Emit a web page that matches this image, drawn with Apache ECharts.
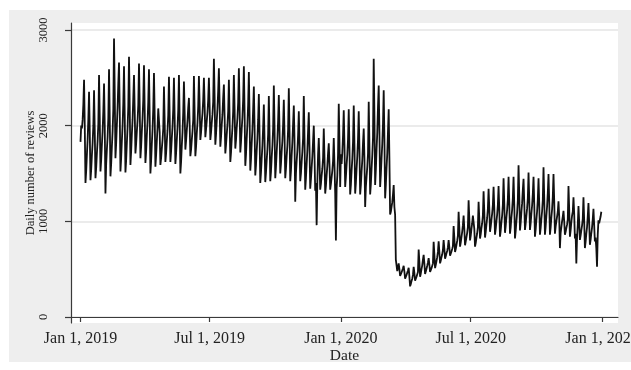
<!DOCTYPE html>
<html>
<head>
<meta charset="utf-8">
<script src="https://cdn.jsdelivr.net/npm/echarts@6/dist/echarts.min.js"></script>
<style>
  html, body { margin: 0; padding: 0; background: #ffffff; }
  #chart { position: absolute; left: 9px; top: 10px; width: 622px; height: 352px; }
</style>
</head>
<body>
<div id="chart"></div>
<script>
// Daily review counts, one value per calendar day starting 1 Jan 2019.
// Rows are Sunday-to-Saturday weeks (the first row holds Tue 1 Jan - Sat 5 Jan).
const firstDay = '2019-01-01';

const reviews2019 = [
  1830,2000,1970,2060,2220,
  2480,1990,1400,1530,1700,1850,2070,
  2355,1940,1430,1540,1690,1820,2000,
  2370,1950,1450,1560,1710,1840,2020,
  2530,2080,1520,1640,1800,1940,2150,
  2440,2010,1290,1600,1750,1880,2080,
  2590,2090,1470,1600,1780,1940,2170,
  2910,2350,1660,1810,2010,2190,2440,
  2660,2150,1520,1660,1840,2000,2230,
  2620,2120,1510,1640,1820,1980,2200,
  2720,2210,1590,1730,1910,2060,2290,
  2530,2160,1710,1810,1940,2050,2220,
  2650,2210,1660,1780,1940,2080,2270,
  2630,2170,1610,1730,1900,2040,2250,
  2590,2100,1500,1630,1810,1960,2180,
  2550,2110,1570,1690,1840,1980,2180,
  2200,1930,1590,1660,1760,1850,1970,
  2410,2050,1620,1710,1840,1950,2110,
  2510,2110,1620,1730,1870,1990,2170,
  2500,2090,1600,1710,1850,1980,2160,
  2530,2070,1500,1620,1790,1930,2140,
  2460,2140,1750,1840,1950,2050,2190,
  2290,2020,1680,1750,1850,1940,2060,
  2520,2140,1680,1780,1920,2030,2200,
  2520,2220,1850,1930,2040,2130,2270,
  2500,2220,1880,1960,2050,2140,2270,
  2500,2210,1850,1930,2030,2120,2250,
  2700,2300,1800,1910,2050,2180,2360,
  2600,2230,1780,1880,2010,2120,2290,
  2430,2100,1710,1800,1910,2010,2150,
  2480,2090,1620,1720,1860,1980,2150,
  2530,2180,1760,1850,1980,2080,2240,
  2600,2200,1720,1830,1970,2090,2270,
  2620,2150,1580,1700,1870,2020,2220,
  2560,2100,1530,1650,1820,1960,2170,
  2410,1990,1480,1590,1740,1870,2060,
  2330,1910,1400,1510,1660,1790,1980,
  2220,1850,1410,1510,1640,1750,1910,
  2310,1910,1420,1520,1670,1790,1970,
  2420,1980,1450,1570,1720,1860,2050,
  2320,1950,1500,1600,1730,1840,2010,
  2270,1900,1450,1550,1680,1790,1960,
  2390,1950,1420,1530,1690,1830,2020,
  2210,1850,1205,1500,1630,1740,1900,
  2150,1820,1420,1500,1620,1730,1870,
  2310,1870,1330,1450,1600,1740,1940,
  2140,1780,1340,1440,1560,1680,1840,
  2000,1690,1320,1400,960,1420,1700,
  1870,1630,1330,1390,1480,1550,1660,
  1970,1670,1290,1370,1480,1580,1710,
  1815,1600,1330,1390,1460,1530,1630,
  1870,1600,1300,800,1350,1480,1700,
  2230,1840,1360
];

const reviews2020 = [
  1700,1600,1720,1900,
  2160,1800,1360,1460,1590,1700,1860,
  2170,1770,1280,1380,1530,1650,1830,
  2210,1800,1290,1400,1550,1680,1860,
  2150,1760,1280,1380,1520,1640,1820,
  1970,1660,1150,1360,1470,1570,1710,
  2250,1810,1280,1390,1550,1690,1880,
  2700,2100,1380,1540,1750,1930,2200,
  2420,1940,1360,1490,1660,1810,2020,
  2370,1860,1240,1380,1560,1710,1940,
  2170,1660,1070,1100,1150,1200,1280,
  1380,1150,1070,600,540,480,460,
  560,500,430,445,465,485,510,
  535,475,400,415,440,455,485,
  515,425,320,345,375,400,440,
  525,460,380,400,420,440,470,
  705,580,420,455,500,540,600,
  650,560,450,475,505,535,570,
  615,550,470,490,510,530,560,
  785,660,510,545,585,625,680,
  790,685,560,590,625,655,700,
  805,715,610,635,665,690,730,
  805,730,640,660,685,710,740,
  950,830,680,710,755,795,850,
  1100,935,735,780,835,890,960,
  1060,920,750,790,835,880,940,
  1220,1030,800,850,920,980,1060,
  1070,920,735,775,830,875,940,
  1205,1030,820,865,930,980,1060,
  1315,1100,830,890,965,1035,1130,
  1340,1140,890,945,1015,1080,1170,
  1360,1135,860,920,1000,1070,1170,
  1370,1130,840,905,990,1060,1170,
  1450,1190,880,950,1040,1120,1230,
  1465,1200,870,940,1040,1120,1240,
  1465,1175,820,900,1000,1090,1220,
  1585,1280,905,985,1095,1190,1330,
  1445,1200,910,975,1060,1135,1240,
  1510,1240,910,980,1080,1165,1285,
  1465,1185,840,915,1015,1105,1230,
  1450,1185,860,930,1025,1105,1225,
  1565,1250,860,945,1055,1155,1295,
  1495,1210,860,935,1040,1125,1255,
  1495,1215,870,945,1000,1050,1100,
  1210,1050,720,880,940,1000,1050,
  1110,1000,860,890,930,965,1020,
  1370,1130,840,905,990,1060,1100,
  1250,1080,820,870,560,830,960,
  1160,1000,805,850,905,955,1025,
  1250,1010,720,785,870,940,1050,
  1190,990,755,805,875,935,1020,
  1130,960,790,830,720,526,860,
  1010,980,1000,1050,1100
];

// Axis ticks
const dateTicks = ['2019-01-01', '2019-07-01', '2020-01-01', '2020-07-01', '2021-01-01'];
const valueTicks = [0, 1000, 2000, 3000];
const monthNames = ['Jan','Feb','Mar','Apr','May','Jun','Jul','Aug','Sep','Oct','Nov','Dec'];

const DAY_MS = 86400000;
const t0 = Date.parse(firstDay);
const daily = reviews2019.concat(reviews2020);
const seriesData = daily.map((v, i) => [t0 + i * DAY_MS, v]);
const dateTickValues = dateTicks.map(d => Date.parse(d));

function fmtDate(ts) {
  const d = new Date(ts);
  return monthNames[d.getUTCMonth()] + ' ' + d.getUTCDate() + ', ' + d.getUTCFullYear();
}

const serif = 'Liberation Serif, Times New Roman, serif';
const axisColor = '#3a3a3a';
const textColor = '#222222';

const chart = echarts.init(document.getElementById('chart'), null, { renderer: 'canvas' });
chart.setOption({
  animation: false,
  backgroundColor: '#eeeeee',
  grid: {
    left: 62, right: 13, top: 13, bottom: 39,
    outerBoundsMode: 'none',
    containLabel: false,
    show: true, backgroundColor: '#ffffff', borderWidth: 0
  },
  xAxis: {
    type: 'value',
    min: t0 - 13.3 * DAY_MS,
    max: t0 + 753.4 * DAY_MS,
    name: 'Date',
    nameLocation: 'middle',
    nameGap: 25,
    nameMoveOverlap: false,
    nameTextStyle: { fontFamily: serif, fontSize: 15.5, color: textColor },
    axisLine: { show: true, lineStyle: { color: axisColor, width: 1.2 } },
    axisTick: { show: true, customValues: dateTickValues, length: 5, lineStyle: { color: axisColor, width: 1.2 } },
    axisLabel: {
      customValues: dateTickValues,
      formatter: fmtDate,
      fontFamily: serif, fontSize: 16, color: textColor, margin: 8,
      hideOverlap: false, showMinLabel: true, showMaxLabel: true
    },
    splitLine: { show: false }
  },
  yAxis: {
    type: 'value',
    min: -63,
    max: 3073,
    name: 'Daily number of reviews',
    nameLocation: 'middle',
    nameRotate: 90,
    nameGap: 34,
    nameMoveOverlap: false,
    nameTextStyle: { fontFamily: serif, fontSize: 12.5, color: textColor },
    axisLine: { show: true, lineStyle: { color: axisColor, width: 1.2 } },
    axisTick: { show: true, customValues: valueTicks, length: 6, lineStyle: { color: axisColor, width: 1.2 } },
    axisLabel: {
      customValues: valueTicks,
      formatter: v => String(v),
      rotate: 90,
      fontFamily: serif, fontSize: 12.5, color: textColor, margin: 21
    },
    splitLine: { show: true, lineStyle: { color: '#e4e4e4', width: 1.5 } }
  },
  series: [{
    type: 'line',
    data: seriesData,
    showSymbol: false,
    symbol: 'none',
    lineStyle: { color: '#111111', width: 1.8 },
    z: 3
  }]
});
</script>
</body>
</html>
